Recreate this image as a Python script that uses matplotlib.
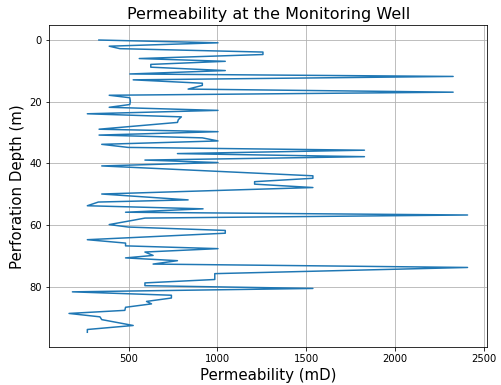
import numpy as np
import matplotlib
matplotlib.use("Agg")
import matplotlib.pyplot as plt

depth = [0.0, 0.9, 2.0, 2.8, 3.9, 4.7, 6.0, 6.9, 7.9, 8.8, 9.9, 11.0, 11.8,
         12.9, 14.0, 14.7, 15.9, 16.9, 17.9, 18.7, 19.8, 20.9, 21.8, 22.8, 23.9, 24.9,
         25.8, 26.7, 28.9, 29.7, 30.8, 31.7, 32.7, 33.8, 34.8, 35.7, 36.8, 37.8,
         38.9, 39.7, 40.8, 44.0, 44.8, 45.9, 46.7, 47.8, 49.9,
         51.8, 52.5, 53.7, 54.7, 55.8, 56.7, 57.7, 58.4, 59.8, 60.6, 61.7, 62.6,
         64.7, 65.8, 66.7, 67.6, 68.7, 69.8, 70.6, 71.5, 72.6, 73.7, 75.7, 77.6,
         78.7, 79.6, 80.5, 81.6, 82.7, 83.6, 84.7, 85.5, 86.6, 87.6, 88.6, 89.7,
         90.6, 92.5, 93.8, 94.7]
perm = [333, 1003, 391, 451, 1256, 1256, 560, 1044, 625, 625, 1044, 507, 2326,
        526, 915, 915, 835, 2326, 391, 507, 510, 507, 391, 1003, 268, 797,
        780, 775, 334, 1003, 334, 915, 1003, 349, 498, 1827, 775, 1827,
        592, 1003, 349, 1537, 1537, 1209, 1209, 1537, 349,
        835, 330, 268, 919, 483, 2407, 592, 526, 391, 498, 1044, 1044,
        268, 483, 483, 1003, 592, 638, 483, 775, 638, 2407, 985, 985,
        592, 592, 1537, 184, 741, 741, 601, 629, 483, 479, 165, 339,
        349, 526, 268, 268]

fig = plt.figure(figsize=(501/72, 385/72), dpi=72)
ax = fig.add_axes([0.098, 0.099, 0.875, 0.835])
ax.plot(perm, depth, color="tab:blue", lw=1.5)
ax.invert_yaxis()
ax.grid(True, color="#b0b0b0", lw=0.8)
ax.set_title("Permeability at the Monitoring Well", fontsize=16)
ax.set_xlabel("Permeability (mD)", fontsize=15)
ax.set_ylabel("Perforation Depth (m)", fontsize=15)
ax.set_xticks([500, 1000, 1500, 2000, 2500])
fig.savefig("out.png", dpi=72)
